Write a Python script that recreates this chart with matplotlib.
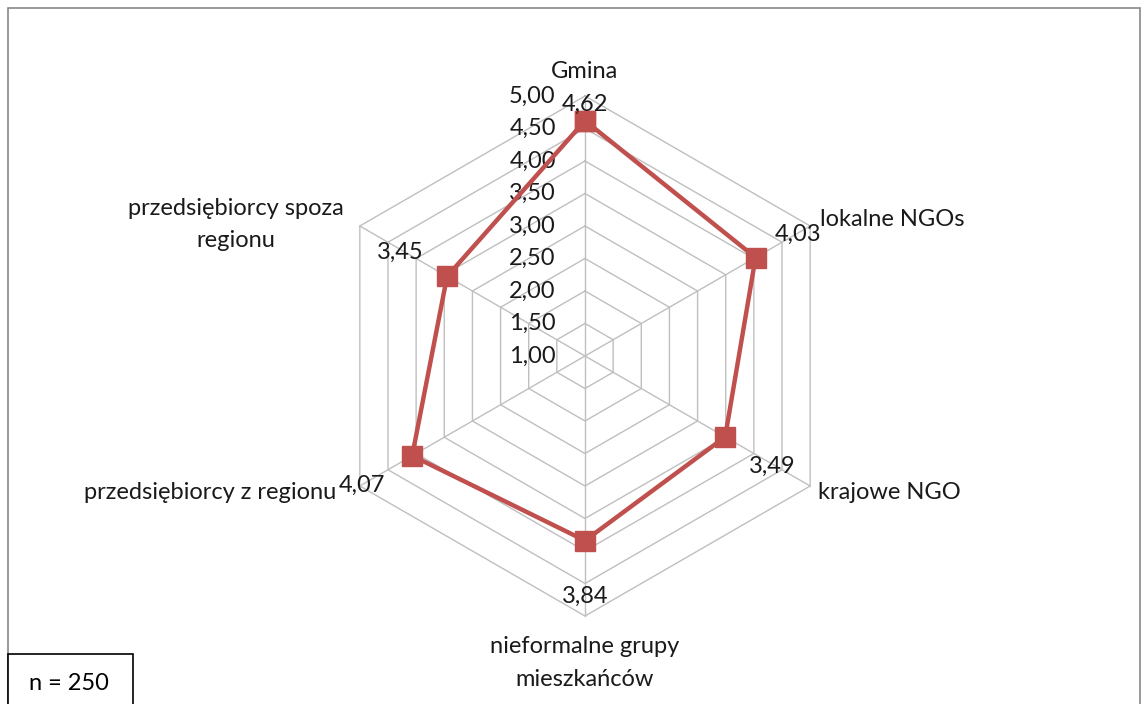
import numpy as np
import matplotlib.pyplot as plt
from matplotlib.patches import Rectangle

plt.rcParams['font.family'] = ['Lato', 'DejaVu Sans']

# Data
categories = ['Gmina', 'lokalne NGOs', 'krajowe NGO', 'nieformalne grupy\nmieszkańców',
              'przedsiębiorcy z regionu', 'przedsiębiorcy spoza\nregionu']
values = [4.62, 4.03, 3.49, 3.84, 4.07, 3.45]
value_labels = ['4,62', '4,03', '3,49', '3,84', '4,07', '3,45']
ring_levels = [1.0, 1.5, 2.0, 2.5, 3.0, 3.5, 4.0, 4.5, 5.0]
ring_labels = ['1,00', '1,50', '2,00', '2,50', '3,00', '3,50', '4,00', '4,50', '5,00']
rmin = 1.0

W, H = 1144, 704
cx, cy = 585, 356
scale = 65.0  # pixels per unit
fs = 17
txt_c = '#1a1a1a'

fig = plt.figure(figsize=(W / 100, H / 100), dpi=100)
ax = fig.add_axes([0, 0, 1, 1])
ax.set_xlim(-cx / scale, (W - cx) / scale)
ax.set_ylim(-(H - cy) / scale, cy / scale)
ax.axis('off')

n = len(categories)
angles = np.arange(n) * 2 * np.pi / n
sx, sy = np.sin(angles), np.cos(angles)
grid_c = '#BFBFBF'

# hexagonal grid rings
for lv in ring_levels[1:]:
    r = lv - rmin
    xs = np.append(r * sx, r * sx[0])
    ys = np.append(r * sy, r * sy[0])
    ax.plot(xs, ys, color=grid_c, lw=1, zorder=1)

# spokes
rmax = ring_levels[-1] - rmin
for i in range(n):
    ax.plot([0, rmax * sx[i]], [0, rmax * sy[i]], color=grid_c, lw=1, zorder=1)

# tick labels on vertical axis
for lv, lab in zip(ring_levels, ring_labels):
    ax.text(-0.45, lv - rmin, lab, ha='right', va='center', fontsize=fs, color=txt_c)

# data series
r = np.array(values) - rmin
xs = np.append(r * sx, r[0] * sx[0])
ys = np.append(r * sy, r[0] * sy[0])
ax.plot(xs, ys, color='#C0504D', lw=3.2, marker='s', markersize=14,
        markerfacecolor='#C0504D', markeredgecolor='#C0504D', zorder=3)

# value labels
val_off = [(0.0, 0.25), (0.65, 0.35), (0.72, -0.45), (0.0, -0.85), (-0.77, -0.45), (-0.72, 0.37)]
for i in range(n):
    dx, dy = val_off[i]
    ax.text(r[i] * sx[i] + dx, r[i] * sy[i] + dy, value_labels[i],
            ha='center', va='center', fontsize=fs, color=txt_c, zorder=4)

# category labels
cat_pos = [(0.0, 4.38, 'center'), (3.62, 2.1, 'left'), (3.58, -2.1, 'left'),
           (0.0, -4.72, 'center'), (-3.82, -2.1, 'right'), (-5.37, 2.02, 'center')]
for lab, (x, y, ha) in zip(categories, cat_pos):
    ax.text(x, y, lab, ha=ha, va='center', fontsize=fs, color=txt_c,
            linespacing=1.68)

# outer frame and n box
fig.patches.append(Rectangle((8 / W, -0.05), (1140 - 8) / W, (H - 8) / H + 0.05,
                             transform=fig.transFigure, fill=False,
                             edgecolor='#888888', lw=1.2))
fig.patches.append(Rectangle((8 / W, -0.05), (133 - 8) / W, (H - 654) / H + 0.05,
                             transform=fig.transFigure, facecolor='white',
                             edgecolor='black', lw=1.2))
fig.text(69 / W, (H - 683) / H, 'n = 250', ha='center', va='center', fontsize=fs)

fig.savefig('out.png', dpi=100)
